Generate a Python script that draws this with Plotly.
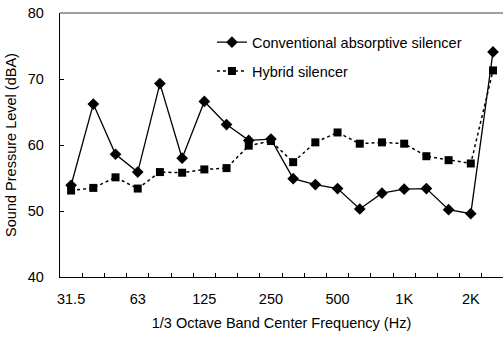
import plotly.graph_objects as go

freqs = ["31.5", "40", "50", "63", "80", "100", "125", "160", "200", "250",
         "315", "400", "500", "630", "800", "1K", "1.25K", "1.6K", "2K", "2.5K"]
shown_labels = ["31.5", "63", "125", "250", "500", "1K", "2K"]
conventional = [53.9, 66.2, 58.6, 55.9, 69.3, 58.0, 66.6, 63.1, 60.7, 60.9,
                54.9, 54.0, 53.4, 50.3, 52.7, 53.3, 53.4, 50.2, 49.6, 74.1]
hybrid = [53.1, 53.5, 55.1, 53.4, 55.9, 55.8, 56.3, 56.5, 59.9, 60.6,
          57.4, 60.4, 61.9, 60.2, 60.4, 60.2, 58.3, 57.7, 57.2, 71.3]

ticktext = [f if f in shown_labels else "" for f in freqs]
font = "Liberation Sans, Arial, sans-serif"
fs = 14.5

fig = go.Figure()
fig.add_trace(go.Scatter(
    x=freqs, y=conventional, name="Conventional absorptive silencer",
    mode="lines+markers", legendgroup="a",
    line=dict(color="black", width=1.3),
    marker=dict(symbol="diamond", size=9, color="black"),
))
fig.add_trace(go.Scatter(
    x=freqs, y=hybrid, name="Hybrid silencer",
    mode="lines+markers", legendgroup="b",
    line=dict(color="black", width=1.5, dash="3px,3px"),
    marker=dict(symbol="square", size=8, color="black"),
))

fig.update_layout(
    width=503, height=338,
    margin=dict(l=60, r=0, t=13, b=61),
    paper_bgcolor="white", plot_bgcolor="white",
    font=dict(family=font, size=fs, color="black"),
    showlegend=True,
    legend=dict(x=0.343, y=0.95, xanchor="left", yanchor="top",
                bgcolor="rgba(0,0,0,0)", font=dict(size=fs),
                traceorder="grouped", tracegroupgap=7, itemwidth=30),
    shapes=[dict(type="line", xref="paper", yref="paper", x0=0, x1=1, y0=1, y1=1,
                 line=dict(color="#808080", width=1.5))],
)
fig.update_xaxes(
    type="category", categoryorder="array", categoryarray=freqs,
    range=[-0.5, 19.45],
    tickmode="array", tickvals=freqs, ticktext=ticktext, tickangle=0,
    tickson="boundaries", ticks="inside", ticklen=4, tickcolor="black",
    showline=True, linecolor="black", linewidth=1.3, showgrid=False, zeroline=False,
    ticklabelstandoff=8, tickfont=dict(size=fs),
    title=dict(text="1/3 Octave Band Center Frequency (Hz)", font=dict(size=fs), standoff=12),
)
fig.update_yaxes(
    range=[40, 80], dtick=10, ticks="inside", ticklen=4, tickcolor="black",
    showline=True, linecolor="black", linewidth=1.3, showgrid=False, zeroline=False,
    ticklabelstandoff=12, tickfont=dict(size=fs),
    title=dict(text="Sound Pressure Level (dBA)", font=dict(size=fs), standoff=7),
)

fig.write_html("out.html")
